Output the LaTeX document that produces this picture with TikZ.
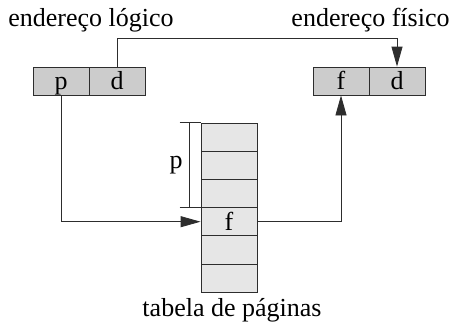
\documentclass[tikz,border=0pt]{standalone}
\usepackage{fontspec}
\setmainfont{Liberation Serif}
\usetikzlibrary{arrows.meta,calc}
\definecolor{addrfill}{RGB}{204,204,204}
\definecolor{tabfill}{RGB}{230,230,230}
\definecolor{linecol}{RGB}{45,45,45}
\begin{document}
\begin{tikzpicture}[x=1pt,y=-1pt,
  font=\fontsize{26}{30}\selectfont,
  conn/.style={draw=linecol,line width=0.85pt},
  addrcell/.style={draw=linecol,line width=0.85pt,fill=addrfill,minimum width=56pt,minimum height=28pt,inner sep=0pt,text height=17pt,text depth=0pt},
  tabcell/.style={draw=linecol,line width=0.85pt,fill=tabfill,minimum width=56pt,minimum height=28.2pt,inner sep=0pt,text height=17pt,text depth=0pt},
  lbl/.style={inner sep=0pt,anchor=base},
  tip/.style={conn,-{Triangle[length=20pt,width=11pt]}}]
\useasboundingbox (0,0) rectangle (455,324);
% logical address
\node[addrcell] (lp) at (61,81) {p};
\node[addrcell] (ld) at (117,81) {d};
% physical address
\node[addrcell] (rf) at (341,81) {f};
\node[addrcell] (rd) at (397,81) {d};
% page table
\node[tabcell] (t1) at (229,137.1) {};
\node[tabcell] (t2) at (229,165.3) {};
\node[tabcell] (t3) at (229,193.5) {};
\node[tabcell] (t4) at (229,221.7) {f};
\node[tabcell] (t5) at (229,249.9) {};
\node[tabcell] (t6) at (229,278.1) {};
% labels
\node[lbl] (ll) at (91,26.7) {endereço lógico};
\node[lbl] (lf) at (370.5,26.7) {endereço físico};
\node[lbl] (lt) at (232,316.7) {tabela de páginas};
% bracket
\coordinate (bt) at ($(t1.north west)+(-21,0)$);
\coordinate (bb) at ($(t4.north west)+(-21,0)$);
\draw[conn] (bt) -- (t1.north west);
\draw[conn] (bb) -- (t4.north west);
\draw[conn] ($(t1.north west)+(-11,0)$) coordinate (vt) -- ($(t4.north west)+(-11,0)$) coordinate (vb);
\node[inner sep=0pt] (bp) at (176,165) {p};
% connectors
\draw[tip] (ld.north) -- ++(0,-28) -| (rd.north);
\draw[tip] (lp.south) |- (t4.west);
\draw[tip] (t4.east) -| (rf.south);
\end{tikzpicture}
\end{document}
